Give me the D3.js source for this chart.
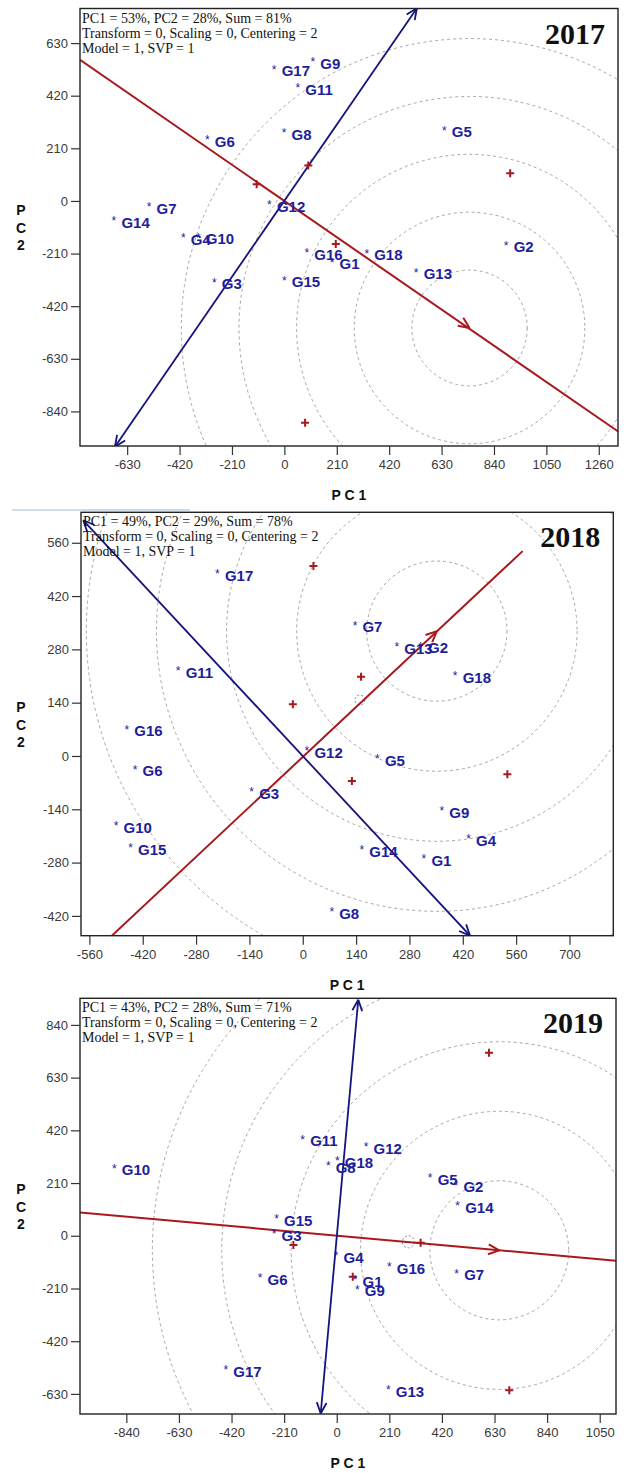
<!DOCTYPE html>
<html>
<head>
<meta charset="utf-8">
<script src="https://cdn.jsdelivr.net/npm/d3@7"></script>
<style>
  body { margin: 0; background: #fff; }
</style>
</head>
<body>
<svg></svg>
<script>
// genotype names, same order in every year
const genotypes = ["G1","G2","G3","G4","G5","G6","G7","G8","G9","G10","G11","G12","G13","G14","G15","G16","G17","G18"];
const years = ["2017", "2018", "2019"];

// info lines printed top-left
const pcText = ["PC1 = 53%, PC2 = 28%, Sum = 81%", "PC1 = 49%, PC2 = 29%, Sum = 78%", "PC1 = 43%, PC2 = 28%, Sum = 71%"];
const infoText = ["Transform = 0, Scaling = 0, Centering = 2", "Model = 1, SVP = 1"];

// 2017
const geno2017X = [191, 889, -281, -405, 641, -309, -542, -1, 114, -345, 54, -60, 528, -683, 0, 90, -41, 330];
const geno2017Y = [-234, -167, -315, -136, 293, 254, -13, 283, 566, -135, 463, -5, -275, -69, -306, -196, 536, -198];
const env2017X = [-111, 96, 905, 206, 83];
const env2017Y = [67, 141, 111, -172, -885];
// 2018
const geno2018X = [318, 309, -134, 435, 196, -440, 137, 76, 365, -490, -327, 11, 247, 155, -452, -462, -224, 400];
const geno2018Y = [-263, 295, -88, -210, 0, -28, 350, -402, -137, -177, 230, 20, 293, -240, -234, 77, 486, 217];
const env2018X = [28, -26, 153, 129, 537];
const env2018Y = [499, 136, 208, -66, -48];
// 2019
const geno2019X = [73, 476, -250, -3, 373, -306, 479, -34, 82, -888, -136, 117, 206, 483, -240, 210, -443, 2];
const geno2019Y = [-164, 211, 18, -70, 242, -157, -139, 288, -203, 279, 394, 365, -604, 129, 79, -113, -524, 308];
const env2019X = [608, -173, 64, 335, 689];
const env2019Y = [729, -37, -163, -28, -615];

// average-environment axis (red), its ordinate (blue), ideal point and ring spacing
const aecRed = [[[-819, 563], [1339, -921]], [[-501, -472], [577, 538]], [[-1025, 93], [1118, -100]]];
const aecBlue = [[[531, 769], [-679, -981]], [[-576, 619], [439, -472]], [[86, 940], [-64, -708]]];
const idealPoint = [[742, -507], [352, 328], [649, -58]];
const ringStep = [231, 184, 277];
const ringCount = 5;
const smallRing = [null, [150, 147, 13], [286, -24, 24]];

// axis ranges and ticks
const xDomains = [[-819, 1337], [-582, 815], [-1025, 1115]];
const yDomains = [[-978, 768], [-472, 640], [-710, 946]];
const xTicks = [[-630, -420, -210, 0, 210, 420, 630, 840, 1050, 1260],
                [-560, -420, -280, -140, 0, 140, 280, 420, 560, 700],
                [-840, -630, -420, -210, 0, 210, 420, 630, 840, 1050]];
const yTicks = [[-840, -630, -420, -210, 0, 210, 420, 630],
                [-420, -280, -140, 0, 140, 280, 420, 560],
                [-630, -420, -210, 0, 210, 420, 630, 840]];

const genoX = [geno2017X, geno2018X, geno2019X];
const genoY = [geno2017Y, geno2018Y, geno2019Y];
const envX = [env2017X, env2018X, env2019X];
const envY = [env2017Y, env2018Y, env2019Y];

// plot boxes in pixels: left, top, right, bottom
const boxes = [[80, 8.5, 618, 446], [81, 512.3, 613.3, 935.7], [80, 998.3, 616, 1414]];

const sans = "Arial, 'Liberation Sans', sans-serif";
const serif = "'Times New Roman', 'Liberation Serif', serif";
const blue = "#1e1e9c";
const red = "#a8181c";
const navy = "#14147e";

const svg = d3.select("svg").attr("width", 627).attr("height", 1473);
svg.append("rect").attr("width", 627).attr("height", 1473).attr("fill", "#fff");

// little scan artefact above the 2018 panel
svg.append("line").attr("x1", 12).attr("x2", 190).attr("y1", 510).attr("y2", 510)
    .attr("stroke", "#b9d3ea").attr("stroke-width", 1.5);

function arrowHead(g, tip, from, color, width) {
    const a = Math.atan2(tip[1] - from[1], tip[0] - from[0]);
    const len = 12, spread = 0.42;
    [a + Math.PI - spread, a + Math.PI + spread].forEach(b => {
        g.append("line")
            .attr("x1", tip[0]).attr("y1", tip[1])
            .attr("x2", tip[0] + len * Math.cos(b)).attr("y2", tip[1] + len * Math.sin(b))
            .attr("stroke", color).attr("stroke-width", width);
    });
}

years.forEach((year, i) => {
    const [left, top, right, bottom] = boxes[i];
    const x = d3.scaleLinear().domain(xDomains[i]).range([left, right]);
    const y = d3.scaleLinear().domain(yDomains[i]).range([bottom, top]);
    const g = svg.append("g");

    g.append("clipPath").attr("id", "clip" + i)
        .append("rect").attr("x", left).attr("y", top)
        .attr("width", right - left).attr("height", bottom - top);
    const plot = g.append("g").attr("clip-path", `url(#clip${i})`);

    // concentric rings round the ideal point
    const c = idealPoint[i];
    d3.range(1, ringCount + 1).forEach(k => {
        plot.append("ellipse")
            .attr("cx", x(c[0])).attr("cy", y(c[1]))
            .attr("rx", x(ringStep[i] * k) - x(0)).attr("ry", y(0) - y(ringStep[i] * k))
            .attr("fill", "none").attr("stroke", "#a39a9a")
            .attr("stroke-width", 0.9).attr("stroke-dasharray", "3,3");
    });
    if (smallRing[i]) {
        const s = smallRing[i];
        plot.append("ellipse")
            .attr("cx", x(s[0])).attr("cy", y(s[1]))
            .attr("rx", x(s[2]) - x(0)).attr("ry", y(0) - y(s[2]))
            .attr("fill", "none").attr("stroke", "#777")
            .attr("stroke-width", 0.9).attr("stroke-dasharray", "2,2");
    }

    // red axis with arrow at the ideal point
    const r = aecRed[i].map(p => [x(p[0]), y(p[1])]);
    plot.append("line")
        .attr("x1", r[0][0]).attr("y1", r[0][1]).attr("x2", r[1][0]).attr("y2", r[1][1])
        .attr("stroke", red).attr("stroke-width", 2);
    arrowHead(plot, [x(c[0]), y(c[1])], r[0], red, 2);

    // blue ordinate, arrows on both ends
    const b = aecBlue[i].map(p => [x(p[0]), y(p[1])]);
    plot.append("line")
        .attr("x1", b[0][0]).attr("y1", b[0][1]).attr("x2", b[1][0]).attr("y2", b[1][1])
        .attr("stroke", navy).attr("stroke-width", 1.8);
    arrowHead(plot, b[0], b[1], navy, 1.8);
    arrowHead(plot, b[1], b[0], navy, 1.8);

    // environments
    envX[i].forEach((ex, j) => {
        const px = x(ex), py = y(envY[i][j]);
        plot.append("path")
            .attr("d", `M${px - 4},${py}H${px + 4}M${px},${py - 4}V${py + 4}`)
            .attr("stroke", red).attr("stroke-width", 2);
    });

    // genotypes
    genotypes.forEach((name, j) => {
        const px = x(genoX[i][j]), py = y(genoY[i][j]);
        plot.append("text").attr("x", px).attr("y", py + 7)
            .attr("text-anchor", "middle").style("font-family", sans).attr("font-size", 12)
            .attr("fill", blue).text("*");
        plot.append("text").attr("x", px + 7.5).attr("y", py + 9.6)
            .style("font-family", sans).attr("font-size", 15).attr("font-weight", "bold")
            .attr("fill", blue).text(name);
    });

    // box
    g.append("rect").attr("x", left).attr("y", top)
        .attr("width", right - left).attr("height", bottom - top)
        .attr("fill", "none").attr("stroke", "#222").attr("stroke-width", 1.4);

    // axes
    const fmt = d => d < 0 ? "-" + Math.abs(d) : String(d);
    const ax = g.append("g").attr("transform", `translate(0,${bottom})`)
        .call(d3.axisBottom(x).tickValues(xTicks[i]).tickSize(9).tickPadding(5).tickFormat(fmt));
    const ay = g.append("g").attr("transform", `translate(${left},0)`)
        .call(d3.axisLeft(y).tickValues(yTicks[i]).tickSize(9).tickPadding(3).tickFormat(fmt));
    [ax, ay].forEach(a => {
        a.select(".domain").remove();
        a.selectAll("line").attr("stroke", "#333").attr("stroke-width", 1.2);
        a.selectAll("text").attr("font-size", 13).attr("fill", "#3a3a3a")
            .style("font-family", sans);
    });

    // axis titles
    g.append("text").attr("x", (left + right) / 2).attr("y", bottom + 54)
        .attr("text-anchor", "middle").style("font-family", sans)
        .attr("font-size", 14).attr("font-weight", "bold")
        .attr("fill", "#111").text("P C 1");
    const midY = (top + bottom) / 2;
    ["P", "C", "2"].forEach((ch, k) => {
        g.append("text").attr("x", 21).attr("y", midY - 12 + k * 17.5)
            .attr("text-anchor", "middle").style("font-family", sans)
            .attr("font-size", 14).attr("font-weight", "bold")
            .attr("fill", "#111").text(ch);
    });

    // info lines and year
    [pcText[i]].concat(infoText).forEach((t, k) => {
        g.append("text").attr("x", left + 2).attr("y", top + 14 + k * 15)
            .style("font-family", serif)
            .attr("font-size", 14).attr("fill", "#111").text(t);
    });
    g.append("text").attr("x", right - 13).attr("y", top + 35)
        .attr("text-anchor", "end")
        .style("font-family", serif)
        .attr("font-size", 30).attr("font-weight", "bold").attr("fill", "#111").text(year);
});
</script>
</body>
</html>
